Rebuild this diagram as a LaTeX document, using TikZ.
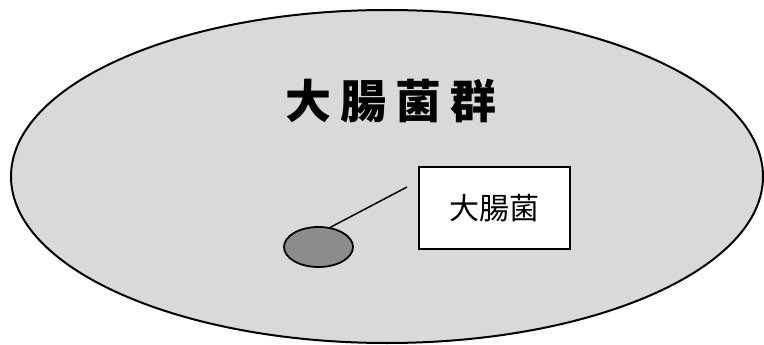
\documentclass[tikz,border=0pt]{standalone}
\usepackage{fontspec}
\usetikzlibrary{shapes.geometric}
\newfontfamily\cjk{Noto Sans CJK JP}
\begin{document}
\begin{tikzpicture}[x=1pt,y=-1pt,
  outer/.style={ellipse,draw=black,line width=2pt,fill=black!15,minimum width=752pt,minimum height=333pt,inner sep=0pt},
  cell/.style={ellipse,draw=black,line width=1.8pt,fill=black!45,minimum width=69pt,minimum height=40pt,inner sep=0pt},
  labelbox/.style={draw=black,line width=1.8pt,fill=white,minimum width=151pt,minimum height=82pt,inner sep=0pt,font=\cjk\fontsize{30pt}{34pt}\selectfont},
  titletext/.style={font=\cjk\bfseries\fontsize{46pt}{50pt}\selectfont\addfontfeature{LetterSpace=20}},
  link/.style={draw=black,line width=1.5pt}]
\useasboundingbox (0,0) rectangle (764,345);
\node[outer] (group) at (387,176.5) {};
\node[titletext] (title) at (391,101) {大腸菌群};
\node[cell] (ecoli) at (318.5,247) {};
\node[labelbox] (box) at (494.5,208) {大腸菌};
\coordinate (tip) at (407,187);
\draw[link] (ecoli.59) -- (tip);
\end{tikzpicture}
\end{document}
